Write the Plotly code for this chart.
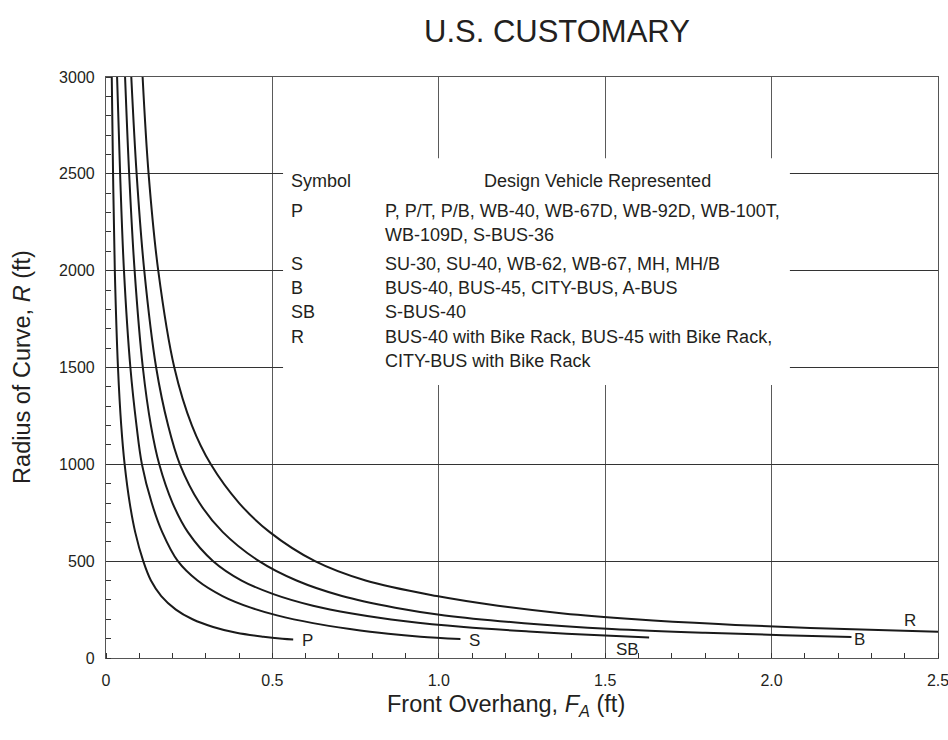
import plotly.graph_objects as go

# ---- data (front overhang FA in ft, radius R in ft) ----
P_fa = [0.0173, 0.0212, 0.0265, 0.036, 0.0458, 0.056, 0.0713, 0.0877, 0.112, 0.135, 0.166, 0.21, 0.26, 0.322, 0.392, 0.473, 0.53, 0.5625]
P_r = [3000, 2500, 2000, 1500, 1200, 1000, 800, 650, 500, 400, 320, 250, 200, 160, 130, 110, 100, 96]

S_fa = [0.0333, 0.0424, 0.054, 0.0733, 0.0917, 0.108, 0.1375, 0.169, 0.216, 0.275, 0.35, 0.435, 0.514, 0.622, 0.733, 0.848, 0.945, 1.065]
S_r = [3000, 2500, 2000, 1500, 1200, 1000, 800, 650, 500, 400, 320, 260, 220, 180, 150, 125, 110, 98]

SB_fa = [0.0573, 0.0696, 0.086, 0.1107, 0.135, 0.16, 0.2, 0.246, 0.322, 0.4075, 0.503, 0.622, 0.739, 0.9, 1.075, 1.27, 1.45, 1.632]
SB_r = [3000, 2500, 2000, 1500, 1200, 1000, 800, 650, 500, 400, 330, 270, 230, 190, 160, 137, 120, 106]

B_fa = [0.076, 0.092, 0.115, 0.1507, 0.1867, 0.222, 0.281, 0.351, 0.46, 0.5725, 0.709, 0.869, 1.018, 1.256, 1.52, 1.8, 2.034, 2.24]
B_r = [3000, 2500, 2000, 1500, 1200, 1000, 800, 650, 500, 400, 320, 260, 220, 180, 150, 130, 118, 108]

R_fa = [0.11, 0.128, 0.157, 0.2053, 0.2583, 0.315, 0.4, 0.492, 0.628, 0.78, 0.994, 1.178, 1.374, 1.59, 1.84, 2.116, 2.5]
R_r = [3000, 2500, 2000, 1500, 1200, 1000, 800, 650, 500, 400, 320, 270, 230, 200, 175, 155, 135]

curves = [("P", P_fa, P_r), ("S", S_fa, S_r), ("SB", SB_fa, SB_r), ("B", B_fa, B_r), ("R", R_fa, R_r)]

# curve label positions (data coords)
curve_labels = {"P": (0.583, 90), "S": (1.086, 90), "SB": (1.568, 42), "B": (2.265, 95), "R": (2.415, 195)}

x_ticks = [0, 0.5, 1.0, 1.5, 2.0, 2.5]
x_tick_text = ["0", "0.5", "1.0", "1.5", "2.0", "2.5"]
y_ticks = [0, 500, 1000, 1500, 2000, 2500, 3000]

legend_symbols = ["P", "", "S", "B", "SB", "R", ""]
legend_desc = [
    "P, P/T, P/B, WB-40, WB-67D, WB-92D, WB-100T,",
    "WB-109D, S-BUS-36",
    "SU-30, SU-40, WB-62, WB-67, MH, MH/B",
    "BUS-40, BUS-45, CITY-BUS, A-BUS",
    "S-BUS-40",
    "BUS-40 with Bike Rack, BUS-45 with Bike Rack,",
    "CITY-BUS with Bike Rack",
]
legend_rows_y = [2308, 2184, 2034, 1911, 1787, 1658, 1534]

FONT = "Liberation Sans, Arial, sans-serif"
INK = "#231f20"

fig = go.Figure()
for name, fa, r in curves:
    fig.add_trace(go.Scatter(x=fa, y=r, mode="lines", name=name,
                             line=dict(color="#1a1a1a", width=2, shape="spline", smoothing=1.0),
                             showlegend=False, hoverinfo="skip"))

for name, (lx, ly) in curve_labels.items():
    fig.add_annotation(x=lx, y=ly, text=name, showarrow=False,
                       xanchor="left" if name in ("P", "S") else "center",
                       font=dict(family=FONT, size=17, color=INK))

# legend box
fig.add_shape(type="rect", x0=0.532, x1=2.055, y0=1410, y1=2580, line=dict(width=0),
              fillcolor="white", layer="above")

fig.add_annotation(x=0.55, y=2463, text="Symbol", showarrow=False, xanchor="left",
                   font=dict(family=FONT, size=18, color=INK))
fig.add_annotation(x=1.477, y=2463, text="Design Vehicle Represented", showarrow=False, xanchor="center",
                   font=dict(family=FONT, size=18, color=INK))
for sym, desc, yy in zip(legend_symbols, legend_desc, legend_rows_y):
    if sym:
        fig.add_annotation(x=0.55, y=yy, text=sym, showarrow=False, xanchor="left",
                           font=dict(family=FONT, size=18, color=INK))
    fig.add_annotation(x=0.832, y=yy, text=desc, showarrow=False, xanchor="left",
                       font=dict(family=FONT, size=18, color=INK))

# titles
fig.add_annotation(xref="paper", yref="paper", x=0.542, y=1.0775, text="U.S. CUSTOMARY", showarrow=False,
                   xanchor="center", yanchor="middle", font=dict(family=FONT, size=31, color=INK))
fig.add_annotation(xref="paper", yref="paper", x=0.481, y=-0.081,
                   text="Front Overhang, <i>F</i><sub><i>A</i></sub> (ft)", showarrow=False,
                   xanchor="center", yanchor="middle", font=dict(family=FONT, size=23.5, color=INK))
fig.add_annotation(xref="paper", yref="paper", x=-0.101, y=0.501,
                   text="Radius of Curve, <i>R</i> (ft)", showarrow=False, textangle=-90,
                   xanchor="center", yanchor="middle", font=dict(family=FONT, size=23.5, color=INK))

fig.update_xaxes(range=[0, 2.5], tickvals=x_ticks, ticktext=x_tick_text, showgrid=True,
                 gridcolor="#5a5a5a", gridwidth=1, zeroline=False, showline=True, linecolor="#555555",
                 linewidth=1.2, mirror=True, ticks="", ticklabelstandoff=8, ticklabeloverflow="allow",
                 automargin=False,
                 tickfont=dict(family=FONT, size=16, color=INK),
                 minor=dict(dtick=0.1, tick0=0, ticks="inside", ticklen=5, tickcolor="#333333", showgrid=False))
fig.update_yaxes(range=[0, 3000], tickvals=y_ticks, showgrid=True,
                 gridcolor="#333333", gridwidth=1, zeroline=False, showline=True, linecolor="#555555",
                 linewidth=1.2, mirror=True, ticks="", ticklabelstandoff=7, ticklabeloverflow="allow",
                 automargin=False,
                 tickfont=dict(family=FONT, size=16, color=INK),
                 minor=dict(dtick=100, tick0=0, ticks="inside", ticklen=5, tickcolor="#333333", showgrid=False))

fig.update_layout(width=948, height=740, margin=dict(l=106, r=10, t=77, b=82, autoexpand=False),
                  plot_bgcolor="white", paper_bgcolor="white")

# remove the default page margin so the figure fills the 948x740 window exactly
fig.write_html("out.html", config={"displayModeBar": False},
               post_script="document.body.style.margin='0';document.body.style.overflow='hidden';")
